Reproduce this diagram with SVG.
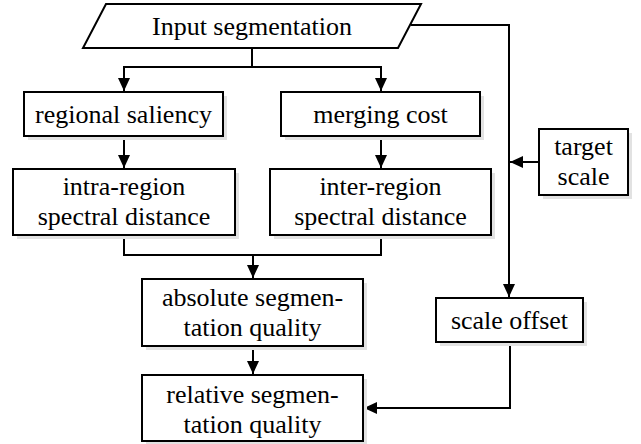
<svg xmlns="http://www.w3.org/2000/svg" width="641" height="444" viewBox="0 0 641 444">
<defs>
<style>
.box{fill:#fff;stroke:#000;stroke-width:2}
.sh{fill:#e2e2e2;stroke:none}
.t{font-family:'Liberation Serif','Times New Roman','DejaVu Serif',serif;font-size:26px;fill:#000;text-anchor:middle}
.c{fill:none;stroke:#000;stroke-width:2}
</style>
<marker id="ah" markerUnits="userSpaceOnUse" markerWidth="14" markerHeight="12" refX="13" refY="6" orient="auto">
<path d="M0,0 L13,6 L0,12 z" fill="#000"/>
</marker>
</defs>
<rect width="641" height="444" fill="#fff"/>
<g id="connectors">
<path class="c" d="M252,48 V67 H124 V91" marker-end="url(#ah)"/>
<path class="c" d="M252,67 H381 V91" marker-end="url(#ah)"/>
<path class="c" d="M124,136 V168" marker-end="url(#ah)"/>
<path class="c" d="M381,136 V168" marker-end="url(#ah)"/>
<path class="c" d="M124,235 V255 H381 V235"/>
<path class="c" d="M253,255 V278" marker-end="url(#ah)"/>
<path class="c" d="M253,346 V374" marker-end="url(#ah)"/>
<path class="c" d="M411,25 H509 V297" marker-end="url(#ah)"/>
<path class="c" d="M539,162 H510" marker-end="url(#ah)"/>
<path class="c" d="M510,342 V408 H364" marker-end="url(#ah)"/>
</g>
<g id="input">
<polygon class="box" points="106,4 421,4 398,48 83,48"/>
<text class="t" x="252" y="35" font-family="Liberation Serif, serif">Input segmentation</text>
</g>
<g id="regional">
<rect class="sh" x="28" y="96" width="199" height="44"/>
<rect class="box" x="24" y="92" width="199" height="44"/>
<text class="t" x="123.5" y="123">regional saliency</text>
</g>
<g id="merging">
<rect class="sh" x="285" y="96" width="199" height="44"/>
<rect class="box" x="281" y="92" width="199" height="44"/>
<text class="t" x="380.5" y="123">merging cost</text>
</g>
<g id="intra">
<rect class="sh" x="17" y="173" width="222" height="66"/>
<rect class="box" x="13" y="169" width="222" height="66"/>
<text class="t" x="124" y="195">intra-region</text>
<text class="t" x="124" y="225">spectral distance</text>
</g>
<g id="inter">
<rect class="sh" x="274" y="173" width="221" height="66"/>
<rect class="box" x="270" y="169" width="221" height="66"/>
<text class="t" x="380.5" y="195">inter-region</text>
<text class="t" x="380.5" y="225">spectral distance</text>
</g>
<g id="target">
<rect class="sh" x="543" y="133" width="89" height="66"/>
<rect class="box" x="539" y="129" width="89" height="66"/>
<text class="t" x="583.5" y="155">target</text>
<text class="t" x="583.5" y="185">scale</text>
</g>
<g id="absolute">
<rect class="sh" x="146" y="283" width="221" height="67"/>
<rect class="box" x="142" y="279" width="221" height="67"/>
<text class="t" x="252.5" y="306">absolute segmen-</text>
<text class="t" x="252.5" y="336">tation quality</text>
</g>
<g id="scaleoffset">
<rect class="sh" x="440" y="302" width="147" height="44"/>
<rect class="box" x="436" y="298" width="147" height="44"/>
<text class="t" x="509.5" y="329">scale offset</text>
</g>
<g id="relative">
<rect class="sh" x="146" y="379" width="221" height="66"/>
<rect class="box" x="142" y="375" width="221" height="66"/>
<text class="t" x="252.5" y="403">relative segmen-</text>
<text class="t" x="252.5" y="433">tation quality</text>
</g>
</svg>
